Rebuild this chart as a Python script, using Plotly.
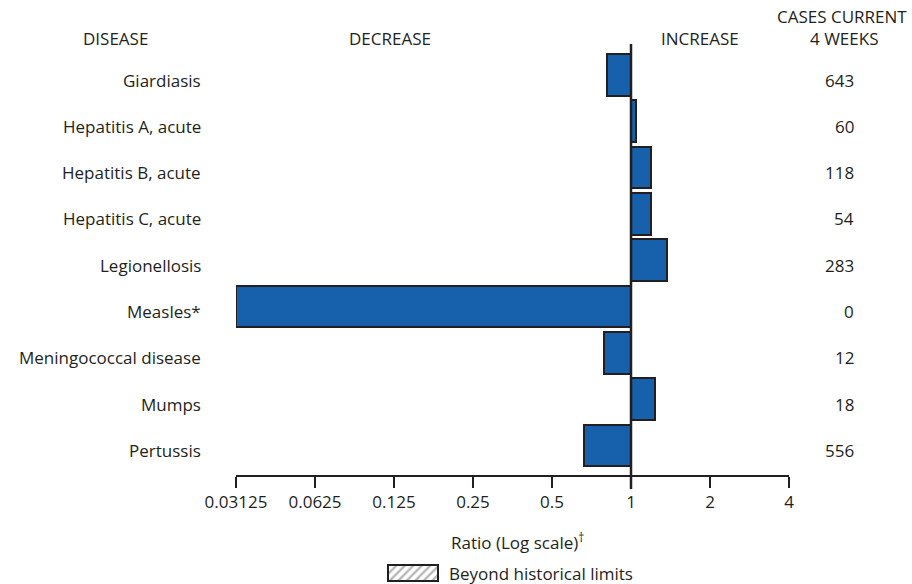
import math
import plotly.graph_objects as go

# Notifiable disease ratios (current 4 weeks vs. historical baseline) and case counts
diseases = [
    "Giardiasis",
    "Hepatitis A, acute",
    "Hepatitis B, acute",
    "Hepatitis C, acute",
    "Legionellosis",
    "Measles*",
    "Meningococcal disease",
    "Mumps",
    "Pertussis",
]
ratios = [0.81, 1.045, 1.19, 1.19, 1.37, 0.03125, 0.79, 1.23, 0.66]
cases = [643, 60, 118, 54, 283, 0, 12, 18, 556]

tick_vals = [0.03125, 0.0625, 0.125, 0.25, 0.5, 1, 2, 4]
tick_text = ["0.03125", "0.0625", "0.125", "0.25", "0.5", "1", "2", "4"]

W, H = 912, 584
INK = "#231f20"
BLUE = "#1760ac"
FONT = "Open Sans"


def px_x(p):
    return p / W


def px_y(p):
    return 1 - p / H


fig = go.Figure()

# Ratio bars, anchored at 1 on the log axis
fig.add_trace(go.Bar(
    y=diseases,
    x=[r - 1 for r in ratios],
    base=[1] * len(ratios),
    orientation="h",
    width=0.9,
    marker=dict(color=BLUE, line=dict(color=INK, width=2)),
    showlegend=False,
    hoverinfo="skip",
    xaxis="x", yaxis="y",
))

# Legend swatch: hatched box for "beyond historical limits"
fig.add_trace(go.Bar(
    x=[1], y=[0], orientation="h", width=1,
    marker=dict(color="white",
                line=dict(color=INK, width=2),
                pattern=dict(shape="/", fgcolor="#6e6e6e", bgcolor="white",
                             size=6, solidity=0.4)),
    showlegend=False, hoverinfo="skip",
    xaxis="x2", yaxis="y2",
))

fig.update_layout(
    width=W, height=H,
    margin=dict(l=0, r=0, t=0, b=0, autoexpand=False),
    paper_bgcolor="white", plot_bgcolor="white",
    font=dict(family=FONT, size=17, color=INK),
    bargap=0,
    xaxis=dict(
        type="log",
        domain=[px_x(236), px_x(789)],
        range=[math.log10(tick_vals[0]), math.log10(tick_vals[-1])],
        tickmode="array", tickvals=tick_vals, ticktext=tick_text,
        ticks="outside", ticklen=11, tickwidth=2, tickcolor=INK,
        showline=True, linecolor=INK, linewidth=2,
        showgrid=False, zeroline=False, automargin=False,
        tickfont=dict(family=FONT, size=17, color=INK),
        anchor="y",
    ),
    yaxis=dict(
        type="category",
        categoryorder="array", categoryarray=diseases,
        domain=[px_y(475), px_y(44)],
        range=[8.64, -0.67],
        showticklabels=False, ticks="", showline=False, showgrid=False,
        zeroline=False, automargin=False,
        anchor="x",
    ),
    xaxis2=dict(domain=[px_x(383), px_x(443)], range=[-0.1, 1.1],
                visible=False, anchor="y2", automargin=False),
    yaxis2=dict(domain=[px_y(584), px_y(562)], range=[-0.7, 0.7],
                visible=False, anchor="x2", automargin=False),
)

# Reference line at ratio = 1
fig.add_shape(type="line", xref="x", yref="paper",
              x0=1, x1=1, y0=px_y(489), y1=px_y(44),
              line=dict(color=INK, width=2.5), layer="above")

annotations = []
# Disease names and case counts for each row
for name, n in zip(diseases, cases):
    annotations.append(dict(
        x=px_x(203), xref="paper", y=name, yref="y", yshift=-5,
        text=name, showarrow=False, xanchor="right", yanchor="middle",
        font=dict(family=FONT, size=17, color=INK)))
    annotations.append(dict(
        x=px_x(856), xref="paper", y=name, yref="y", yshift=-5,
        text=str(n), showarrow=False, xanchor="right", yanchor="middle",
        font=dict(family=FONT, size=17, color=INK)))

# Column headers
headers = [
    ("DISEASE", 115, 38),
    ("DECREASE", 390, 38),
    ("INCREASE", 700, 38),
    ("CASES CURRENT", 842, 16),
    ("4 WEEKS", 844, 38),
]
for txt, xc, yc in headers:
    annotations.append(dict(
        x=px_x(xc), xref="paper", y=px_y(yc), yref="paper",
        text=txt, showarrow=False, xanchor="center", yanchor="middle",
        font=dict(family=FONT, size=17, color=INK)))

# Axis title
annotations.append(dict(
    x=px_x(517), xref="paper", y=px_y(541), yref="paper",
    text="Ratio (Log scale)<sup>†</sup>", showarrow=False,
    xanchor="center", yanchor="middle",
    font=dict(family=FONT, size=17, color=INK)))

# Legend text
annotations.append(dict(
    x=px_x(447), xref="paper", y=px_y(573), yref="paper",
    text="Beyond historical limits", showarrow=False,
    xanchor="left", yanchor="middle",
    font=dict(family=FONT, size=17, color=INK)))

fig.update_layout(annotations=annotations)

fig.write_html("out.html")
